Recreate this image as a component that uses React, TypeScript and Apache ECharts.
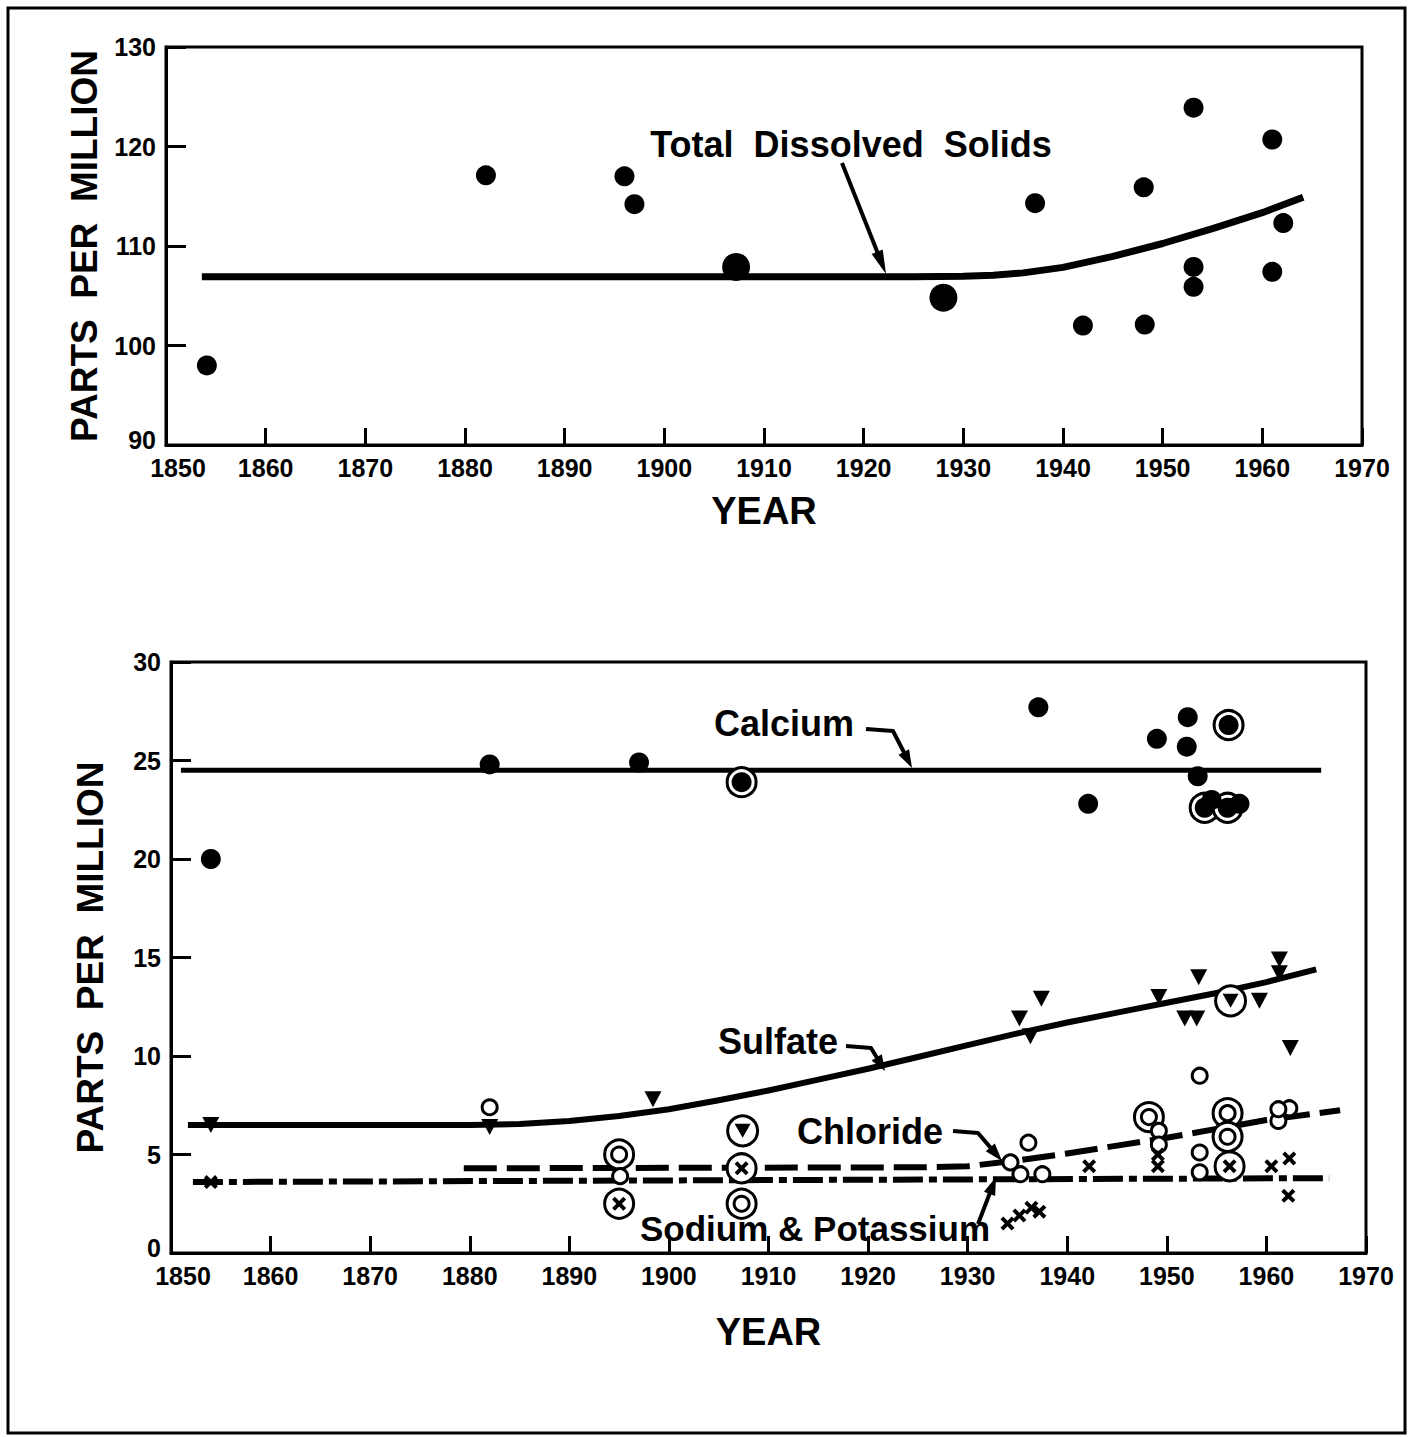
import React, { useEffect, useRef } from "react";
import * as echarts from "echarts";

// ---------- DATA ----------
// Top panel: Total dissolved solids (ppm)
const tdsPoints: number[][] = [
  [1854.1, 98.0], [1882.1, 117.1], [1896.0, 117.0], [1897.0, 114.2],
  [1937.2, 114.3], [1942.0, 102.0], [1948.1, 115.9], [1948.2, 102.1],
  [1953.1, 123.9], [1953.1, 107.9], [1953.1, 105.9], [1961.0, 120.7],
  [1961.0, 107.4], [1962.1, 112.3],
];
const tdsLargePoints: number[][] = [[1907.2, 107.9], [1928.0, 104.8]];
const tdsCurveYears = [1853.6, 1925, 1930, 1933, 1936, 1940, 1945, 1950, 1955, 1960, 1964.1];
const tdsCurveValues = [106.9, 106.9, 106.95, 107.05, 107.3, 107.85, 108.95, 110.25, 111.75, 113.35, 114.9];

// Bottom panel
const calciumPoints: number[][] = [
  [1854.0, 20.0], [1882.0, 24.8], [1897.0, 24.9], [1937.1, 27.7], [1942.1, 22.8],
  [1949.0, 26.1], [1952.1, 27.2], [1952.0, 25.7], [1953.1, 24.2], [1954.5, 23.0],
  [1957.3, 22.8],
];
const calciumRinged: number[][] = [[1907.3, 23.9], [1956.2, 26.8], [1953.8, 22.6], [1956.1, 22.6]];
const calciumLineYears = [1851.0, 1965.5];
const calciumLineValues = [24.5, 24.5];

const sulfatePoints: number[][] = [
  [1854.0, 6.5], [1882.0, 6.4], [1898.4, 7.8], [1935.2, 11.9], [1937.4, 12.9],
  [1936.3, 11.0], [1949.2, 13.0], [1953.2, 14.0], [1951.8, 11.9], [1953.0, 11.9],
  [1959.3, 12.8], [1961.3, 14.9], [1961.3, 14.2], [1962.4, 10.4],
];
const sulfateRinged: number[][] = [[1907.4, 6.2], [1956.4, 12.8]];
const sulfateLineYears = [1851.7, 1880, 1885, 1890, 1895, 1900, 1905, 1910, 1915, 1920, 1925, 1930, 1935, 1940, 1945, 1950, 1955, 1960, 1965.0];
const sulfateLineValues = [6.5, 6.5, 6.55, 6.7, 6.95, 7.3, 7.75, 8.25, 8.8, 9.35, 9.95, 10.55, 11.15, 11.7, 12.2, 12.7, 13.2, 13.75, 14.4];

const chloridePoints: number[][] = [
  [1882.0, 7.4], [1895.1, 3.9], [1934.3, 4.6], [1935.3, 4.0], [1937.5, 4.0],
  [1936.1, 5.6], [1949.2, 6.2], [1949.2, 5.5], [1953.3, 9.0], [1953.3, 5.1],
  [1953.3, 4.1], [1961.2, 6.7], [1962.3, 7.35], [1961.2, 7.3],
];
const chlorideDoubleRing: number[][] = [[1895.0, 5.0], [1907.3, 2.5], [1948.2, 6.9], [1956.1, 7.1], [1956.1, 5.9]];
const chlorideLineYears = [1879.4, 1925, 1930, 1935, 1940, 1945, 1950, 1955, 1960, 1967.4];
const chlorideLineValues = [4.3, 4.35, 4.4, 4.7, 5.05, 5.45, 5.85, 6.3, 6.75, 7.25];

const sodiumPoints: number[][] = [
  [1854.0, 3.6], [1934.0, 1.5], [1935.2, 1.9], [1936.4, 2.3], [1937.2, 2.1],
  [1942.2, 4.4], [1949.1, 4.4], [1949.1, 5.0], [1960.5, 4.4], [1962.3, 4.8],
  [1962.2, 2.9],
];
const sodiumRinged: number[][] = [[1895.0, 2.5], [1907.3, 4.3], [1956.3, 4.4]];
const sodiumLineYears = [1852.2, 1966.3];
const sodiumLineValues = [3.6, 3.8];

// ---------- STYLE ----------
const FONT = "'Liberation Sans', Arial, sans-serif";
const BLACK = "#000";
const X_PATH = "path://M0,2L2,0L5,3L8,0L10,2L7,5L10,8L8,10L5,7L2,10L0,8L3,5Z";
const TICK_FONT = 25;

const zip = (xs: number[], ys: number[]) => xs.map((x, i) => [x, ys[i]]);

function arrow(pts: number[][], head = 18, half = 6, lw = 4): any[] {
  const n = pts.length;
  const P = pts[n - 1];
  const Q = pts[n - 2];
  const dx = P[0] - Q[0];
  const dy = P[1] - Q[1];
  const len = Math.hypot(dx, dy);
  const ux = dx / len;
  const uy = dy / len;
  const bx = P[0] - ux * head;
  const by = P[1] - uy * head;
  const nx = -uy;
  const ny = ux;
  const linePts = pts.slice(0, n - 1).concat([[bx + ux * 2, by + uy * 2]]);
  return [
    { type: "polyline", shape: { points: linePts }, style: { stroke: BLACK, lineWidth: lw, fill: "none", lineJoin: "round" }, z: 10 },
    {
      type: "polygon",
      shape: { points: [P, [bx + nx * half, by + ny * half], [bx - nx * half, by - ny * half]] },
      style: { fill: BLACK }, z: 10,
    },
  ];
}

function label(text: string, x: number, y: number, size = 36, align = "left"): any {
  return {
    type: "text", x, y, z: 10,
    style: {
      text, font: `bold ${size}px ${FONT}`, fill: BLACK,
      align, textAlign: align, verticalAlign: "top", textVerticalAlign: "top",
    },
  };
}

const tickRich = {
  first: { fontSize: TICK_FONT, fontWeight: "bold", fontFamily: FONT, color: BLACK, padding: [0, 0, 0, 24] },
  low: { fontSize: TICK_FONT, fontWeight: "bold", fontFamily: FONT, color: BLACK, padding: [0, 0, 10, 0] },
};

function xAxisOf(gridIndex: number, nameGap: number): any {
  return {
    gridIndex, type: "value", min: 1850, max: 1970, interval: 10,
    axisLine: { show: true, lineStyle: { color: BLACK, width: 3 } },
    axisTick: { show: true, inside: true, length: 17, lineStyle: { color: BLACK, width: 3 } },
    splitLine: { show: false },
    axisLabel: {
      color: BLACK, fontSize: TICK_FONT, fontWeight: "bold", fontFamily: FONT, margin: 10,
      formatter: (v: number) => (v === 1850 ? `{first|${v}}` : `${v}`),
      rich: tickRich,
    },
    name: "YEAR", nameLocation: "middle", nameGap,
    nameTextStyle: { color: BLACK, fontSize: 38, fontWeight: "bold", fontFamily: FONT },
  };
}

function yAxisOf(gridIndex: number, min: number, max: number, interval: number): any {
  return {
    gridIndex, type: "value", min, max, interval,
    axisLine: { show: true, lineStyle: { color: BLACK, width: 3 } },
    axisTick: { show: true, inside: true, length: 20, lineStyle: { color: BLACK, width: 3 } },
    splitLine: { show: false },
    axisLabel: {
      color: BLACK, fontSize: TICK_FONT, fontWeight: "bold", fontFamily: FONT, margin: 10,
      formatter: (v: number) => (v === min ? `{low|${v}}` : `${v}`),
      rich: tickRich,
    },
    name: "PARTS  PER  MILLION", nameLocation: "middle", nameRotate: 90, nameGap: 62,
    nameTextStyle: { color: BLACK, fontSize: 37, fontWeight: "bold", fontFamily: FONT },
  };
}

function scatter(name: string, data: number[][], g: number, symbol: string, size: any, item: any, z: number, rotate = 0): any {
  return {
    name, type: "scatter", xAxisIndex: g, yAxisIndex: g, data, symbol, symbolSize: size,
    symbolRotate: rotate, itemStyle: { opacity: 1, ...item }, z, silent: true,
  };
}

function line(name: string, data: number[][], g: number, width: number, type: any): any {
  return {
    name, type: "line", xAxisIndex: g, yAxisIndex: g, data, symbol: "none",
    smooth: false, lineStyle: { color: BLACK, width, type, cap: "butt", join: "round" }, z: 2, silent: true,
  };
}

const ring = { color: "#fff", borderColor: BLACK, borderWidth: 3 };
const filled = { color: BLACK };
const open = { color: "#fff", borderColor: BLACK, borderWidth: 3 };

export default function App() {
  const ref = useRef<HTMLDivElement>(null);
  useEffect(() => {
    if (!ref.current) return;
    const chart = echarts.init(ref.current, null, { renderer: "svg" });
    const option: any = {
      animation: false,
      backgroundColor: "#fff",
      grid: [
        { left: 166, top: 47, width: 1196, height: 398, show: true, borderColor: BLACK, borderWidth: 3 },
        { left: 171, top: 662, width: 1195, height: 591, show: true, borderColor: BLACK, borderWidth: 3 },
      ],
      xAxis: [xAxisOf(0, 47), xAxisOf(1, 60)],
      yAxis: [yAxisOf(0, 90, 130, 10), yAxisOf(1, 0, 30, 5)],
      series: [
        // top
        line("TDS curve", zip(tdsCurveYears, tdsCurveValues), 0, 7, "solid"),
        scatter("TDS", tdsPoints, 0, "circle", 20, filled, 4),
        scatter("TDS large", tdsLargePoints, 0, "circle", 28, filled, 4),
        // bottom lines
        line("Calcium line", zip(calciumLineYears, calciumLineValues), 1, 5, "solid"),
        line("Sulfate line", zip(sulfateLineYears, sulfateLineValues), 1, 6, "solid"),
        line("Chloride line", zip(chlorideLineYears, chlorideLineValues), 1, 6, [33, 10]),
        line("Sodium line", zip(sodiumLineYears, sodiumLineValues), 1, 6, [30, 6, 8, 6]),
        // rings
        scatter("Calcium ring", calciumRinged, 1, "circle", 29, ring, 3),
        scatter("Sulfate ring", sulfateRinged, 1, "circle", 30, ring, 3),
        scatter("Chloride ring", chlorideDoubleRing, 1, "circle", 29, ring, 3),
        scatter("Sodium ring", sodiumRinged, 1, "circle", 29, ring, 3),
        // symbols
        scatter("Calcium", calciumPoints, 1, "circle", 20, filled, 4),
        scatter("Calcium ringed", calciumRinged, 1, "circle", 20, filled, 4),
        scatter("Sulfate", sulfatePoints, 1, "triangle", [17, 16], filled, 4, 180),
        scatter("Sulfate ringed", sulfateRinged, 1, "triangle", [16, 14], filled, 4, 180),
        scatter("Chloride", chloridePoints, 1, "circle", 15, open, 4),
        scatter("Chloride double", chlorideDoubleRing, 1, "circle", 15, open, 4),
        scatter("Sodium & Potassium", sodiumPoints, 1, X_PATH, 14, filled, 4),
        scatter("Sodium ringed", sodiumRinged, 1, X_PATH, 14, filled, 4),
      ],
      graphic: [
        { type: "rect", shape: { x: 8, y: 8, width: 1397, height: 1425 }, style: { fill: "none", stroke: BLACK, lineWidth: 3 }, z: 0 },
        label("Total  Dissolved  Solids", 851, 126, 36, "center"),
        ...arrow([[842, 163], [886, 274]], 24, 6, 4),
        label("Calcium", 714, 705, 36),
        ...arrow([[866, 729], [893, 731], [912, 768]], 18, 6, 4),
        label("Sulfate", 718, 1023, 36),
        ...arrow([[846, 1046], [871, 1048], [885, 1071]], 16, 6, 4),
        label("Chloride", 797, 1113, 36),
        ...arrow([[953, 1131], [978, 1133], [1002, 1161]], 18, 6, 4),
        label("Sodium & Potassium", 640, 1211, 35),
        ...arrow([[978, 1224], [996, 1177]], 18, 6, 4),
      ],
    };
    chart.setOption(option);
    return () => chart.dispose();
  }, []);
  return (
    <div
      ref={ref}
      style={{ position: "absolute", left: 0, top: 0, width: 1421, height: 1437, background: "#fff" }}
    />
  );
}
